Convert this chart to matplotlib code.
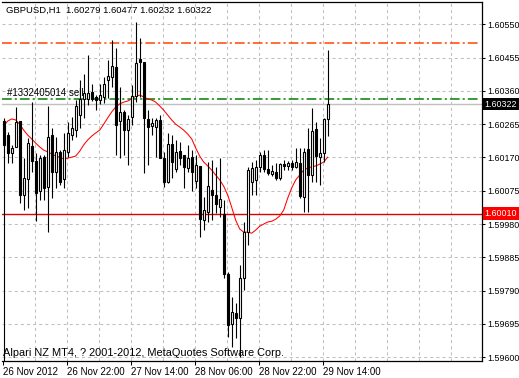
import numpy as np
import matplotlib.pyplot as plt

plt.rcParams['font.family'] = ['Liberation Sans', 'DejaVu Sans']
plt.rcParams['lines.scale_dashes'] = False

# GBPUSD H1 bars, 26 Nov 2012 06:00 .. 29 Nov 2012 15:00
opens = [1.60274, 1.60234, 1.60183, 1.60200, 1.60274, 1.60063, 1.60108, 1.60203, 1.60160, 1.60074,
         1.60171, 1.60086, 1.60234, 1.60128, 1.60186, 1.60108, 1.60186, 1.60234, 1.60248, 1.60291,
         1.60337, 1.60337, 1.60357, 1.60343, 1.60334, 1.60343, 1.60391, 1.60400, 1.60428, 1.60274,
         1.60300, 1.60248, 1.60285, 1.60345, 1.60451, 1.60442, 1.60280, 1.60260, 1.60257, 1.60277,
         1.60168, 1.60100, 1.60208, 1.60137, 1.60188, 1.60177, 1.60140, 1.60171, 1.60103, 1.60146,
         1.59991, 1.60014, 1.60077, 1.60063, 1.60028, 1.60009, 1.59837, 1.59695, 1.59726, 1.59712,
         1.59826, 1.59957, 1.60100, 1.60106, 1.60143, 1.60177, 1.60137, 1.60123, 1.60128, 1.60111,
         1.60151, 1.60146, 1.60154, 1.60143, 1.60154, 1.60057, 1.60194, 1.60120, 1.60251, 1.60171,
         1.60183, 1.60279]
highs = [1.60283, 1.60243, 1.60206, 1.60314, 1.60274, 1.60168, 1.60226, 1.60328, 1.60183, 1.60177,
         1.60177, 1.60317, 1.60254, 1.60228, 1.60191, 1.60240, 1.60271, 1.60285, 1.60334, 1.60391,
         1.60408, 1.60462, 1.60380, 1.60348, 1.60380, 1.60400, 1.60448, 1.60505, 1.60482, 1.60371,
         1.60305, 1.60291, 1.60377, 1.60556, 1.60511, 1.60442, 1.60305, 1.60283, 1.60283, 1.60291,
         1.60186, 1.60240, 1.60234, 1.60220, 1.60214, 1.60177, 1.60206, 1.60191, 1.60177, 1.60146,
         1.60057, 1.60157, 1.60163, 1.60143, 1.60168, 1.60048, 1.59843, 1.59772, 1.59755, 1.59863,
         1.59986, 1.60143, 1.60157, 1.60163, 1.60186, 1.60191, 1.60191, 1.60148, 1.60154, 1.60154,
         1.60163, 1.60160, 1.60163, 1.60197, 1.60197, 1.60197, 1.60254, 1.60311, 1.60271, 1.60226,
         1.60283, 1.60477]
lows = [1.59589, 1.60154, 1.60154, 1.60200, 1.60040, 1.60020, 1.60026, 1.60128, 1.59988, 1.60048,
        1.60048, 1.59957, 1.60054, 1.60083, 1.60091, 1.60083, 1.60171, 1.60220, 1.60228, 1.60254,
        1.60283, 1.60320, 1.60331, 1.60305, 1.60323, 1.60325, 1.60340, 1.60371, 1.60177, 1.60168,
        1.60177, 1.60148, 1.60263, 1.60328, 1.60343, 1.60125, 1.60148, 1.60234, 1.60171, 1.60168,
        1.60086, 1.60097, 1.60111, 1.60128, 1.60148, 1.60083, 1.60128, 1.60074, 1.60083, 1.59943,
        1.59963, 1.59986, 1.59991, 1.60011, 1.60000, 1.59826, 1.59658, 1.59629, 1.59655, 1.59601,
        1.59792, 1.59920, 1.60063, 1.60063, 1.60128, 1.60128, 1.60120, 1.60117, 1.60106, 1.60106,
        1.60134, 1.60134, 1.60134, 1.60140, 1.60054, 1.60014, 1.60014, 1.60100, 1.60100, 1.60091,
        1.60157, 1.60232]
closes = [1.60206, 1.60183, 1.60197, 1.60271, 1.60063, 1.60111, 1.60211, 1.60160, 1.60068, 1.60168,
          1.60083, 1.60228, 1.60128, 1.60186, 1.60100, 1.60191, 1.60240, 1.60254, 1.60317, 1.60337,
          1.60354, 1.60354, 1.60337, 1.60334, 1.60348, 1.60380, 1.60402, 1.60431, 1.60263, 1.60300,
          1.60248, 1.60280, 1.60345, 1.60440, 1.60442, 1.60283, 1.60257, 1.60268, 1.60277, 1.60168,
          1.60100, 1.60208, 1.60157, 1.60186, 1.60168, 1.60143, 1.60168, 1.60128, 1.60148, 1.59994,
          1.60020, 1.60088, 1.60063, 1.60037, 1.60051, 1.59837, 1.59692, 1.59729, 1.59712, 1.59826,
          1.59957, 1.60134, 1.60140, 1.60143, 1.60177, 1.60137, 1.60125, 1.60131, 1.60111, 1.60151,
          1.60146, 1.60154, 1.60143, 1.60157, 1.60060, 1.60186, 1.60120, 1.60245, 1.60174, 1.60183,
          1.60280, 1.60322]
ma = [1.60260, 1.60274, 1.60280, 1.60277, 1.60265, 1.60248, 1.60234, 1.60223, 1.60211, 1.60200,
      1.60191, 1.60186, 1.60180, 1.60174, 1.60171, 1.60166, 1.60168, 1.60171, 1.60174, 1.60188,
      1.60206, 1.60220, 1.60231, 1.60240, 1.60248, 1.60265, 1.60283, 1.60300, 1.60314, 1.60323,
      1.60328, 1.60331, 1.60337, 1.60345, 1.60348, 1.60343, 1.60337, 1.60334, 1.60328, 1.60317,
      1.60305, 1.60291, 1.60277, 1.60265, 1.60257, 1.60248, 1.60237, 1.60223, 1.60197, 1.60174,
      1.60157, 1.60146, 1.60134, 1.60120, 1.60106, 1.60088, 1.60063, 1.60028, 1.59991, 1.59966,
      1.59957, 1.59957, 1.59954, 1.59963, 1.59974, 1.59980, 1.59986, 1.59988, 1.59994, 1.60003,
      1.60020, 1.60054, 1.60083, 1.60106, 1.60120, 1.60134, 1.60140, 1.60143, 1.60146, 1.60151,
      1.60157, 1.60171]

price_levels = [1.59600, 1.59695, 1.59790, 1.59885, 1.59980, 1.60075,
                1.60170, 1.60265, 1.60360, 1.60455, 1.60550]
date_labels = ['26 Nov 2012', '26 Nov 22:00', '27 Nov 14:00',
               '28 Nov 06:00', '28 Nov 22:00', '29 Nov 14:00']
date_bars = [0, 16, 32, 48, 64, 80]

bid = 1.60322
order_price = 1.60338
tp_price = 1.60497
hline_price = 1.60010

W, H = 519, 378
fig = plt.figure(figsize=(W / 100, H / 100), dpi=100)
ax = fig.add_axes([2 / W, 1 - 361 / H, 480 / W, 359 / H])

o = np.array(opens); h = np.array(highs); l = np.array(lows); c = np.array(closes)
x = np.arange(len(o))

# grid
for gx in np.arange(8, 120, 8):
    ax.axvline(gx - 0.2, color='#c0c0c0', lw=0.75, ls=(0, (2.2, 2.2)), zorder=0)
for lv in price_levels:
    ax.axhline(lv, color='#c0c0c0', lw=0.75, ls=(0, (2.2, 2.2)), zorder=0)

ax.axhline(bid, color='#c0c0c0', lw=1.0, zorder=1)
ax.axhline(hline_price, color='#e00000', lw=1.0, zorder=1)
ax.axhline(tp_price, xmax=0.993, color='#ff4500', lw=1.1, ls=(0, (7, 2.2, 1.5, 2.2)), zorder=1)
ax.axhline(order_price, xmax=0.993, color='#008000', lw=1.1, ls=(0, (7, 2.2, 1.5, 2.2)), zorder=1)

ax.plot(x, ma, color='#ff0000', lw=0.75, zorder=2)

ax.vlines(x, l, h, color='black', lw=0.8, zorder=3)
up = c >= o
ax.bar(x[up], c[up] - o[up], bottom=o[up], width=0.55, color='white',
       edgecolor='black', lw=0.8, zorder=4)
ax.bar(x[~up], c[~up] - o[~up], bottom=o[~up], width=0.55, color='black',
       edgecolor='black', lw=0.8, zorder=4)

ax.set_xlim(-0.425, 119.575)
ax.set_ylim(1.595894, 1.606136)

ax.yaxis.tick_right()
ax.set_yticks(price_levels)
ax.set_yticklabels(['%.5f' % v for v in price_levels])
ax.set_xticks(np.array(date_bars) - 0.2)
ax.set_xticklabels(date_labels, ha='left')
ax.tick_params(axis='y', direction='out', length=2.5, width=0.75, labelsize=6.4, pad=1.2)
ax.tick_params(axis='x', direction='out', length=3, width=0.75, labelsize=7, pad=1)

ax.spines['left'].set_visible(False)
for s in ['right', 'bottom', 'top']:
    ax.spines[s].set_linewidth(0.9)

tr = ax.get_yaxis_transform()
ax.text(1.0055, bid, '%.5f' % bid, transform=tr, color='white', fontsize=6.4,
        va='center', ha='left', bbox=dict(boxstyle='square,pad=0.2', fc='black', ec='none'))
ax.text(1.0055, hline_price, '%.5f' % hline_price, transform=tr, color='white', fontsize=6.4,
        va='center', ha='left', bbox=dict(boxstyle='square,pad=0.2', fc='#ff0000', ec='none'))

fig.text(6 / W, 1 - 10 / H, 'GBPUSD,H1  1.60279 1.60477 1.60232 1.60322',
         fontsize=6.8, va='center', ha='left')
fig.text(7 / W, 1 - 93 / H, '#1332405014 sell', fontsize=7, va='center', ha='left', zorder=10)
fig.text(3 / W, 1 - 353 / H, 'Alpari NZ MT4, ? 2001-2012, MetaQuotes Software Corp.',
         fontsize=7.9, va='center', ha='left')

fig.savefig('out.png', dpi=100)
